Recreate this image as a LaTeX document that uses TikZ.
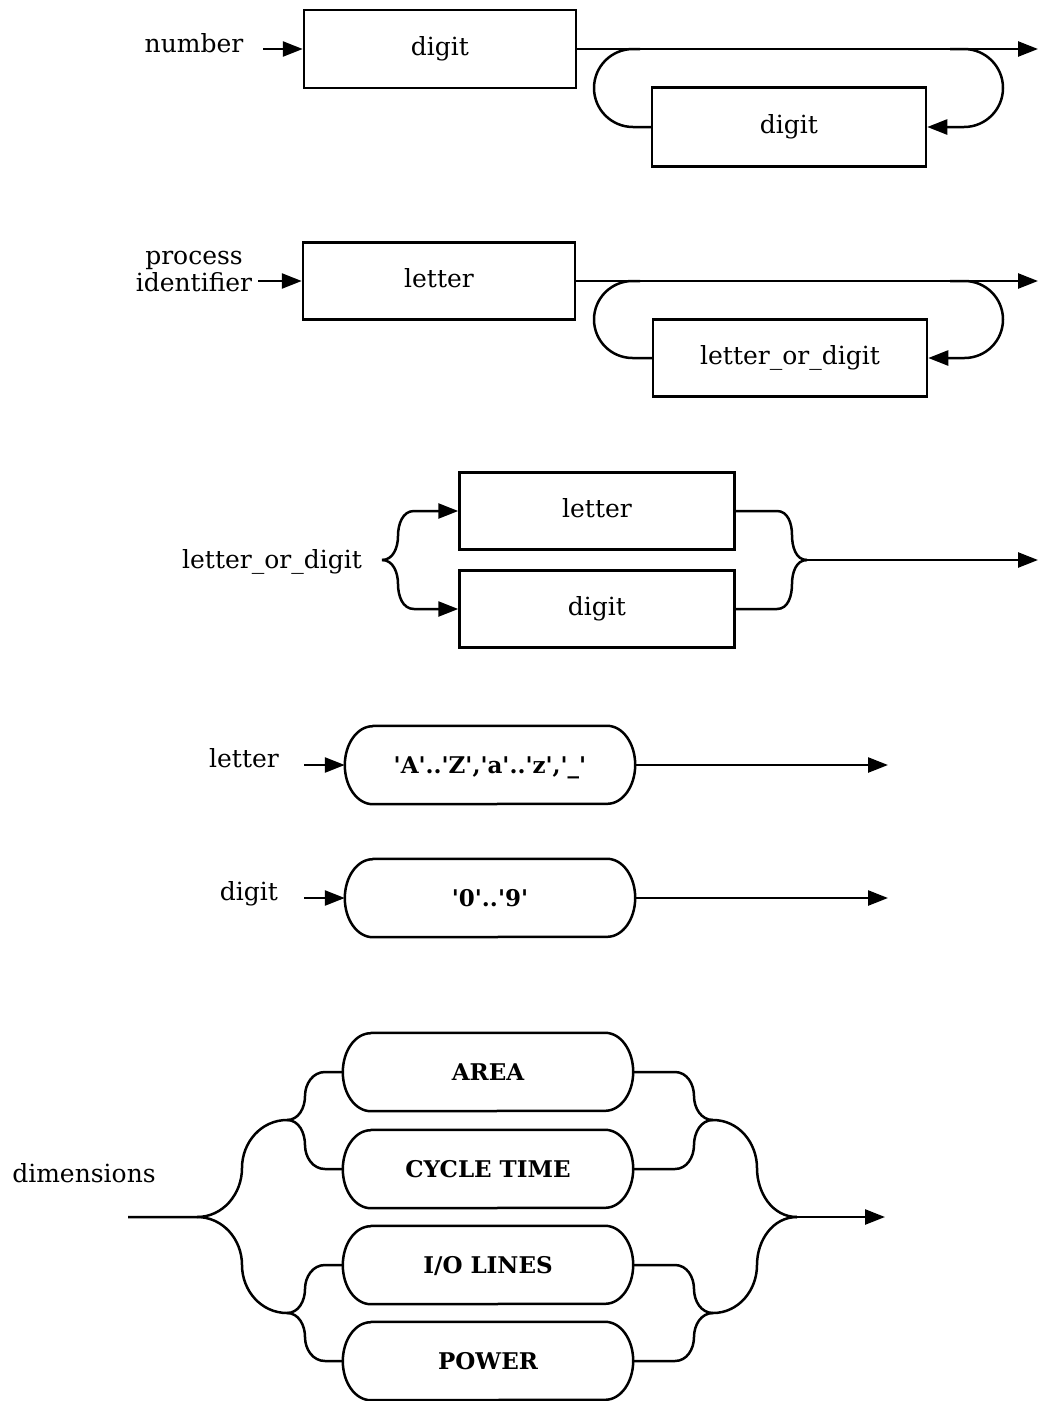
\documentclass[tikz,border=0pt]{standalone}
\usepackage{fontspec}
\setmainfont{DejaVu Serif}
\newfontfamily\litfont{DejaVu Serif}[Ligatures=TeXOff]
\usetikzlibrary{arrows.meta}
\newcommand\pillpath[1]{\draw[wire] ([xshift=28pt]#1.north west) -- ([xshift=-28pt]#1.north east) arc[start angle=-90,end angle=90,x radius=28,y radius=39] -- ([xshift=28pt]#1.south west) arc[start angle=90,end angle=270,x radius=28,y radius=39] -- cycle;}
\tikzset{
  lbl/.style={font=\fontsize{25}{27}\selectfont, inner sep=0pt},
  box/.style={lbl, draw, line width=2.5pt, minimum width=272pt, minimum height=78pt, text height=19pt, text depth=6pt},
  pill/.style={inner sep=0pt, minimum width=290pt, minimum height=78pt, text height=17pt, text depth=0pt, font=\litfont\bfseries\fontsize{23}{26}\selectfont},
  wire/.style={line width=2.5pt, line join=round},
  arr/.style={wire, -{Triangle[length=20pt,width=15pt]}},
}
\begin{document}
\begin{tikzpicture}[x=1pt,y=-1pt]
\useasboundingbox (0,0) rectangle (1040,1401);

% ---------- number ----------
\node[lbl, anchor=base] (numL) at (194,52) {number};
\node[box] (d1) at (440,49) {digit};
\node[box, minimum width=274pt, minimum height=79pt] (d2) at (789,127) {digit};
\coordinate (n0) at (263,49);
\coordinate (n1) at (1038,49);
\coordinate (nl) at (640,49);
\coordinate (nr) at (950,49);
\draw[arr] (n0) -- (d1.west);
\draw[arr] (d1.east) -- (n1);
\draw[wire, rounded corners=39pt] (d2.west) -- (594,127) -- (594,49) -- (nl);
\draw[arr, rounded corners=39pt] (nr) -- (1003,49) -- (1003,127) -- (d2.east);

% ---------- process identifier ----------
\node[lbl, align=center] (piL) at (194,272) {process\\identifier};
\node[box, minimum height=77pt] (l1) at (439,281) {letter};
\node[box, minimum width=274pt, minimum height=77pt] (lod) at (790,358) {letter\_or\_digit};
\coordinate (p0) at (258,281);
\coordinate (p1) at (1038,281);
\coordinate (pl) at (640,281);
\coordinate (pr) at (950,281);
\draw[arr] (p0) -- (l1.west);
\draw[arr] (l1.east) -- (p1);
\draw[wire, rounded corners=38.5pt] (lod.west) -- (594,358) -- (594,281) -- (pl);
\draw[arr, rounded corners=38.5pt] (pr) -- (1003,281) -- (1003,358) -- (lod.east);

% ---------- letter_or_digit ----------
\node[lbl, anchor=base] (lodL) at (272,568) {letter\_or\_digit};
\node[box, minimum width=275pt, minimum height=77pt] (bl) at (597,511) {letter};
\node[box, minimum width=275pt, minimum height=77pt] (bd) at (597,609) {digit};
\coordinate (lb) at (382,560);
\coordinate (rb) at (807,560);
\coordinate (r3) at (1038,560);
\draw[arr] (lb) to[out=0,in=-90] (398,536) to[out=90,in=180] (414,511) -- (bl.west);
\draw[arr] (lb) to[out=0,in=90] (398,584) to[out=-90,in=180] (414,609) -- (bd.west);
\draw[wire] (bl.east) -- (777,511) to[out=0,in=90] (792,535) to[out=-90,in=180] (rb);
\draw[wire] (bd.east) -- (777,609) to[out=0,in=-90] (792,584) to[out=90,in=180] (rb);
\draw[arr] (rb) -- (r3);

% ---------- letter ----------
\node[lbl, anchor=base] (letL) at (244,767) {letter};
\node[pill] (pl4) at (490,765) {'A'..'Z','a'..'z','\_'};
\pillpath{pl4}
\coordinate (l40) at (304,765);
\coordinate (l41) at (888,765);
\draw[arr] (l40) -- (pl4.west);
\draw[arr] (pl4.east) -- (l41);

% ---------- digit ----------
\node[lbl, anchor=base] (digL) at (249,900) {digit};
\node[pill] (pd5) at (490,898) {'0'..'9'};
\pillpath{pd5}
\coordinate (d50) at (304,898);
\coordinate (d51) at (888,898);
\draw[arr] (d50) -- (pd5.west);
\draw[arr] (pd5.east) -- (d51);

% ---------- dimensions ----------
\node[lbl, anchor=base] (dimL) at (84,1182) {dimensions};
\node[pill] (pa) at (488,1072) {AREA};
\node[pill] (pc) at (488,1169) {CYCLE TIME};
\node[pill] (pi) at (488,1265) {I/O LINES};
\node[pill] (pp) at (488,1361) {POWER};
\pillpath{pa}
\pillpath{pc}
\pillpath{pi}
\pillpath{pp}
\coordinate (in6) at (128,1217);
\coordinate (b6) at (197,1217);
\coordinate (bu) at (287,1120);
\coordinate (bw) at (287,1313);
\coordinate (cu) at (713,1120);
\coordinate (cw) at (713,1313);
\coordinate (c6) at (797,1217);
\coordinate (out6) at (885,1217);
% left side
\draw[wire] (in6) -- (b6) to[out=0,in=-90] (242,1168) to[out=90,in=180] (bu);
\draw[wire] (b6) to[out=0,in=90] (242,1265) to[out=-90,in=180] (bw);
\draw[wire] (bu) to[out=0,in=-90] (305,1096) to[out=90,in=180] (325,1072) -- (pa.west);
\draw[wire] (bu) to[out=0,in=90] (305,1145) to[out=-90,in=180] (325,1169) -- (pc.west);
\draw[wire] (bw) to[out=0,in=-90] (305,1289) to[out=90,in=180] (325,1265) -- (pi.west);
\draw[wire] (bw) to[out=0,in=90] (305,1337) to[out=-90,in=180] (325,1361) -- (pp.west);
% right side
\draw[wire] (pa.east) -- (675,1072) to[out=0,in=90] (694,1096) to[out=-90,in=180] (cu);
\draw[wire] (pc.east) -- (675,1169) to[out=0,in=-90] (694,1145) to[out=90,in=180] (cu);
\draw[wire] (pi.east) -- (675,1265) to[out=0,in=90] (694,1289) to[out=-90,in=180] (cw);
\draw[wire] (pp.east) -- (675,1361) to[out=0,in=-90] (694,1337) to[out=90,in=180] (cw);
\draw[wire] (cu) to[out=0,in=90] (757,1168) to[out=-90,in=180] (c6);
\draw[wire] (cw) to[out=0,in=-90] (757,1265) to[out=90,in=180] (c6);
\draw[arr] (c6) -- (out6);
\end{tikzpicture}
\end{document}
